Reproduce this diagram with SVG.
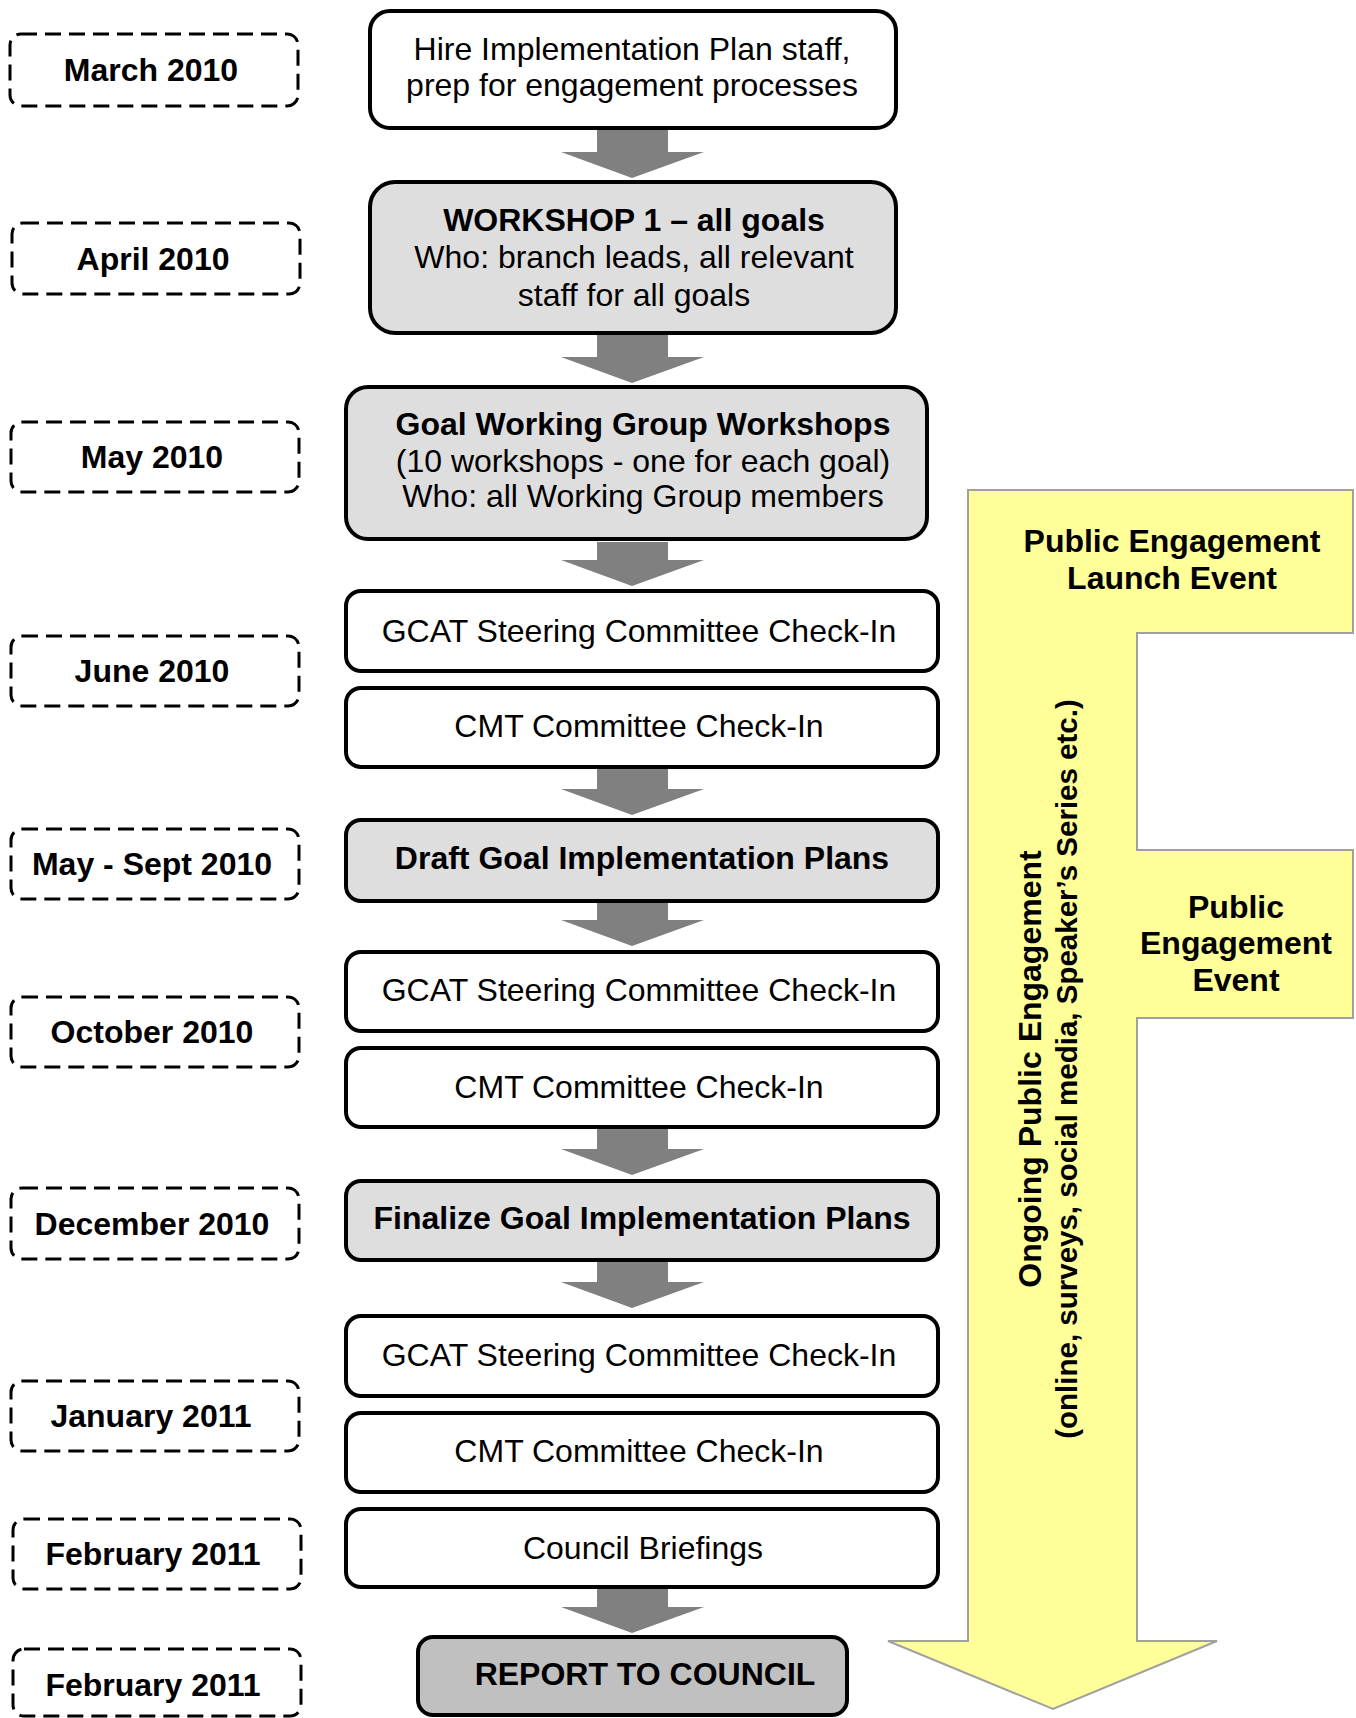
<svg xmlns="http://www.w3.org/2000/svg" width="1356" height="1718" viewBox="0 0 1356 1718">
<style>
text{font-family:"Liberation Sans",Arial,Helvetica,sans-serif;fill:#000}
.t{font-size:32px;text-anchor:middle}
.b{font-size:32px;font-weight:bold;text-anchor:middle}
.date rect{fill:#fff;stroke:#000;stroke-width:3;stroke-dasharray:16 8}
.box{stroke:#000;stroke-width:4}
.w{fill:#fff}
.g{fill:#dedede}
.r{fill:#c0c0c0}
.arr{fill:#808080}
.yel{fill:#ffff99;stroke:#a0a0a0;stroke-width:2}
</style>
<rect width="1356" height="1718" fill="#fff"/>

<g id="public-engagement">
<polygon class="yel" points="968,490 1353,490 1353,633 1137,633 1137,850 1353,850 1353,1018 1137,1018 1137,1641 1217,1641 1053,1709 888,1641 968,1641"/>
<text class="b" x="1172" y="552">Public Engagement</text>
<text class="b" x="1172" y="589">Launch Event</text>
<text class="b" x="1236" y="918">Public</text>
<text class="b" x="1236" y="954">Engagement</text>
<text class="b" x="1236" y="991">Event</text>
<text class="b" transform="translate(1041,1069) rotate(-90)" x="0" y="0">Ongoing Public Engagement</text>
<text class="b" style="font-size:29.5px" transform="translate(1077,1069) rotate(-90)" x="0" y="0">(online, surveys, social media, Speaker’s Series etc.)</text>
</g>

<g id="connectors">
<path class="arr" d="M597,130 H668 V152 H704 L632,178 L561,152 H597 Z"/>
<path class="arr" d="M597,335 H668 V357 H704 L632,383 L561,357 H597 Z"/>
<path class="arr" d="M597,542 H668 V560 H704 L632,586 L561,560 H597 Z"/>
<path class="arr" d="M597,769 H668 V789 H704 L632,815 L561,789 H597 Z"/>
<path class="arr" d="M597,903 H668 V920 H704 L632,946 L561,920 H597 Z"/>
<path class="arr" d="M597,1129 H668 V1149 H704 L632,1175 L561,1149 H597 Z"/>
<path class="arr" d="M597,1262 H668 V1282 H704 L632,1308 L561,1282 H597 Z"/>
<path class="arr" d="M597,1589 H668 V1607 H704 L632,1633 L561,1607 H597 Z"/>
</g>

<g id="n-hire"><rect class="box w" x="370" y="11" width="526" height="117" rx="20"/>
<text class="t" x="632" y="60">Hire Implementation Plan staff,</text>
<text class="t" x="632" y="96">prep for engagement processes</text></g>

<g id="n-workshop1"><rect class="box g" x="370" y="182" width="526" height="151" rx="25"/>
<text class="b" x="634" y="231">WORKSHOP 1 – all goals</text>
<text class="t" x="634" y="268">Who: branch leads, all relevant</text>
<text class="t" x="634" y="306">staff for all goals</text></g>

<g id="n-goalwg"><rect class="box g" x="346" y="387" width="581" height="152" rx="22"/>
<text class="b" x="643" y="435">Goal Working Group Workshops</text>
<text class="t" x="643" y="472">(10 workshops - one for each goal)</text>
<text class="t" x="643" y="507">Who: all Working Group members</text></g>

<g id="n-gcat1"><rect class="box w" x="346" y="591" width="592" height="80" rx="15"/>
<text class="t" x="639" y="642">GCAT Steering Committee Check-In</text></g>
<g id="n-cmt1"><rect class="box w" x="346" y="688" width="592" height="79" rx="15"/>
<text class="t" x="639" y="737">CMT Committee Check-In</text></g>
<g id="n-draft"><rect class="box g" x="346" y="820" width="592" height="81" rx="15"/>
<text class="b" x="642" y="869">Draft Goal Implementation Plans</text></g>
<g id="n-gcat2"><rect class="box w" x="346" y="952" width="592" height="79" rx="15"/>
<text class="t" x="639" y="1001">GCAT Steering Committee Check-In</text></g>
<g id="n-cmt2"><rect class="box w" x="346" y="1048" width="592" height="79" rx="15"/>
<text class="t" x="639" y="1098">CMT Committee Check-In</text></g>
<g id="n-finalize"><rect class="box g" x="346" y="1181" width="592" height="79" rx="15"/>
<text class="b" x="642" y="1229">Finalize Goal Implementation Plans</text></g>
<g id="n-gcat3"><rect class="box w" x="346" y="1316" width="592" height="80" rx="15"/>
<text class="t" x="639" y="1366">GCAT Steering Committee Check-In</text></g>
<g id="n-cmt3"><rect class="box w" x="346" y="1413" width="592" height="79" rx="15"/>
<text class="t" x="639" y="1462">CMT Committee Check-In</text></g>
<g id="n-council"><rect class="box w" x="346" y="1509" width="592" height="78" rx="15"/>
<text class="t" x="643" y="1559">Council Briefings</text></g>
<g id="n-report"><rect class="box r" x="418" y="1637" width="429" height="78" rx="15"/>
<text class="b" x="645" y="1685">REPORT TO COUNCIL</text></g>

<g id="d-mar10" class="date"><rect x="10" y="34" width="288" height="72" rx="11"/><text class="b" x="151" y="81">March 2010</text></g>
<g id="d-apr10" class="date"><rect x="12" y="223" width="288" height="71" rx="11"/><text class="b" x="153" y="270">April 2010</text></g>
<g id="d-may10" class="date"><rect x="11" y="422" width="288" height="70" rx="11"/><text class="b" x="152" y="468">May 2010</text></g>
<g id="d-jun10" class="date"><rect x="11" y="636" width="288" height="70" rx="11"/><text class="b" x="152" y="682">June 2010</text></g>
<g id="d-maysep10" class="date"><rect x="11" y="829" width="288" height="70" rx="11"/><text class="b" x="152" y="875">May - Sept 2010</text></g>
<g id="d-oct10" class="date"><rect x="11" y="997" width="288" height="70" rx="11"/><text class="b" x="152" y="1043">October 2010</text></g>
<g id="d-dec10" class="date"><rect x="11" y="1188" width="288" height="71" rx="11"/><text class="b" x="152" y="1235">December 2010</text></g>
<g id="d-jan11" class="date"><rect x="11" y="1381" width="288" height="70" rx="11"/><text class="b" x="151" y="1427">January 2011</text></g>
<g id="d-feb11a" class="date"><rect x="13" y="1519" width="288" height="70" rx="11"/><text class="b" x="153" y="1565">February 2011</text></g>
<g id="d-feb11b" class="date"><rect x="13" y="1649" width="288" height="67" rx="11"/><text class="b" x="153" y="1696">February 2011</text></g>
</svg>
